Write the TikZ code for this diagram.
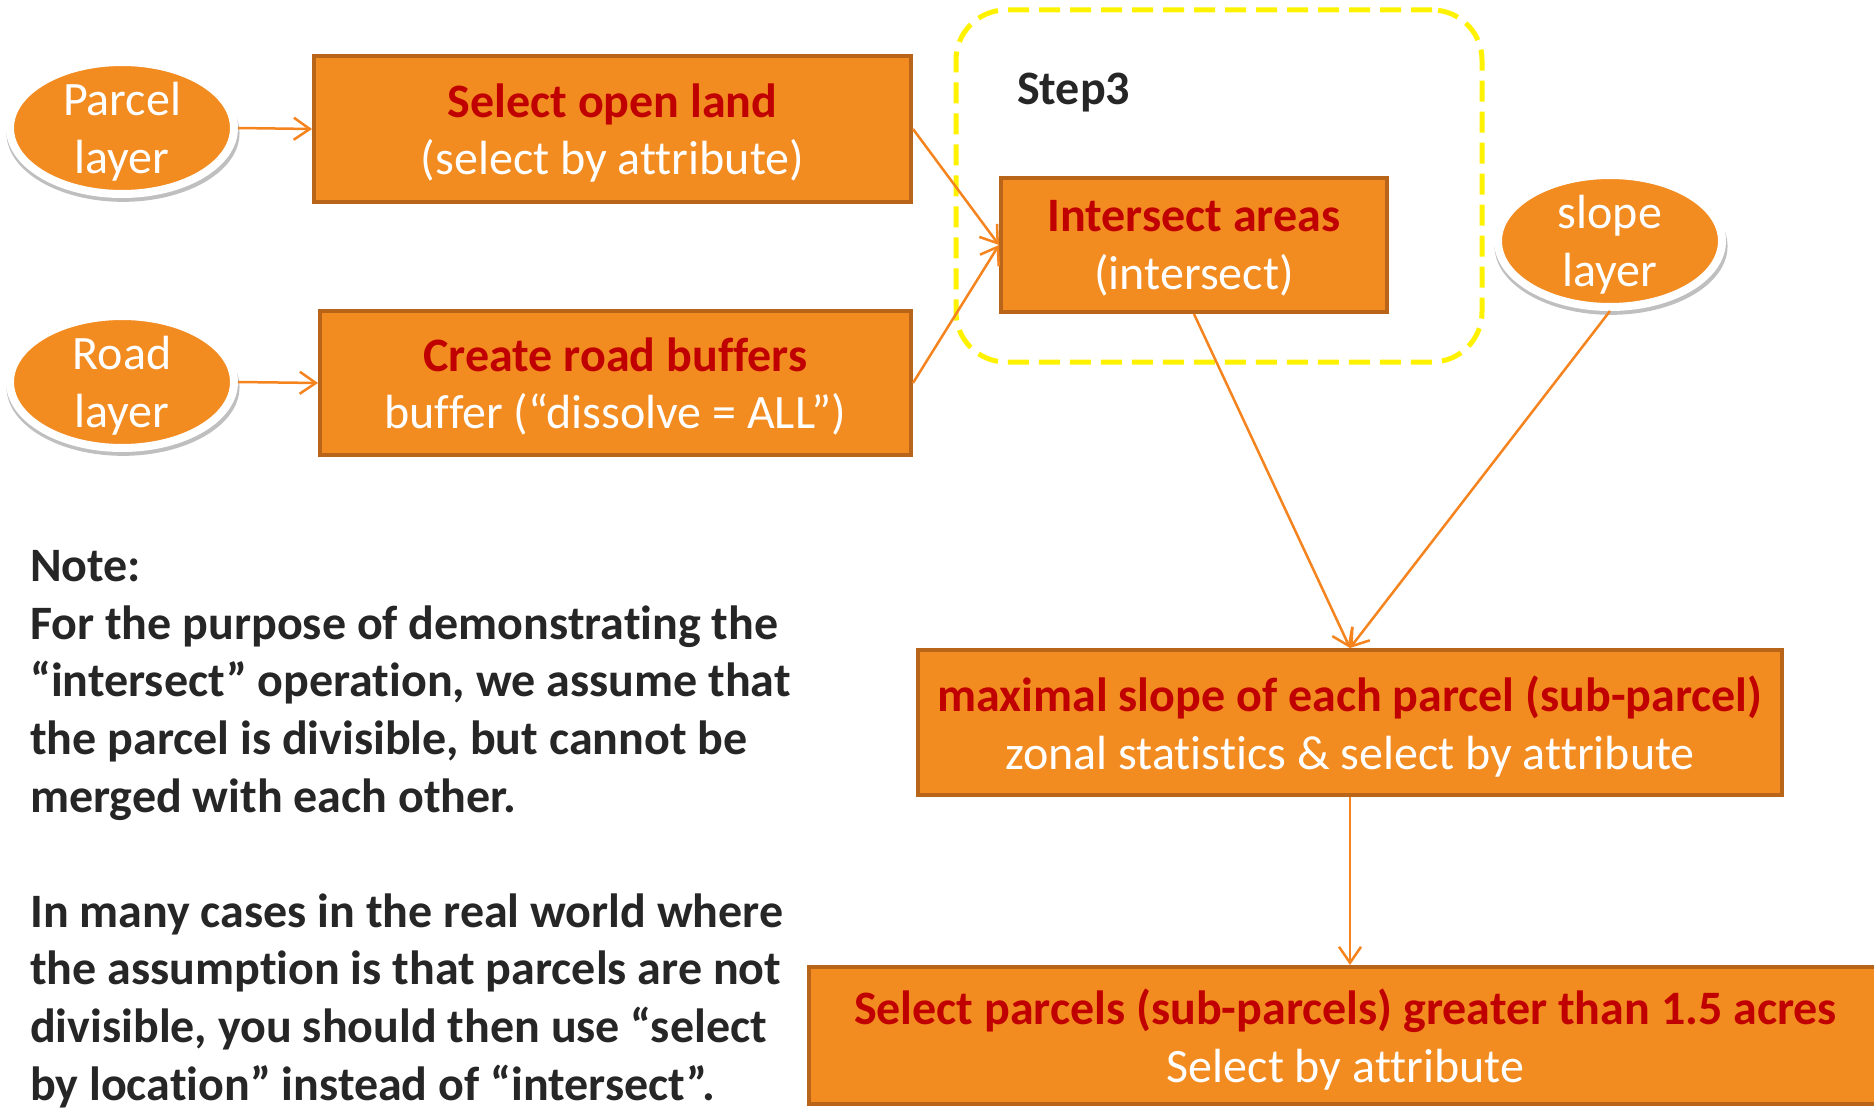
\documentclass[tikz,border=0pt]{standalone}
\usepackage{fontspec}
\setmainfont[Ligatures=NoCommon]{Carlito}
\usetikzlibrary{arrows.meta,shapes.geometric,shadows}
\definecolor{orfill}{HTML}{F28B20}
\definecolor{boxedge}{HTML}{B8651A}
\definecolor{redt}{HTML}{C00000}
\definecolor{arrowc}{HTML}{F5841F}
\definecolor{darkt}{HTML}{262626}
\begin{document}
\begin{tikzpicture}[x=1pt,y=-1pt,
  big/.style={font=\fontsize{48}{57.5}\selectfont},
  proc/.style={rectangle, draw=boxedge, line width=4pt, fill=orfill, text=white, align=center, inner sep=0pt, text depth=0pt, big},
  layer/.style={ellipse, draw=white, line width=8pt, fill=orfill, text=white, align=center, inner sep=0pt, text depth=0pt,
    minimum width=224pt, minimum height=132pt, big,
    drop shadow={shadow xshift=1pt, shadow yshift=-5pt, shadow scale=1.04, opacity=0.25, fill=black}},
  flow/.style={draw=arrowc, line width=2.5pt, -{Straight Barb[length=16pt,width=22pt,line width=2.5pt]}},
  frame/.style={rectangle, draw=yellow, line width=5pt, dash pattern=on 21pt off 10pt, rounded corners=50pt, inner sep=0pt}
]
\useasboundingbox (0,0) rectangle (1874,1110);
\fill[white] (0,0) rectangle (1874,1110);

\node[frame, minimum width=526pt, minimum height=352pt] (grp) at (1219,186) {};
\node[anchor=base west, inner sep=0pt, text=darkt, font=\fontsize{48}{57.5}\selectfont\bfseries] (step) at (1017,105) {Step3};

\node[layer] (parcel) at (122,128) {Parcel\\layer};
\node[layer] (roadl) at (122,382) {Road\\layer};
\node[layer] (slope) at (1610,241) {slope\\layer};

\node[proc, minimum width=597pt, minimum height=146pt] (open) at (612.5,129)
  {{\color{redt}\bfseries Select open land}\\(select by attribute)};
\node[proc, minimum width=591pt, minimum height=144pt] (buf) at (615.5,383)
  {{\color{redt}\bfseries Create road buffers}\\buffer (“dissolve = ALL”)};
\node[proc, minimum width=386pt, minimum height=134pt] (isect) at (1194,245)
  {{\color{redt}\bfseries Intersect areas}\\(intersect)};
\node[proc, minimum width=864pt, minimum height=145pt] (maxs) at (1350,722.5)
  {{\color{redt}\bfseries maximal slope of each parcel (sub-parcel)}\\zonal statistics \& select by attribute};
\node[proc, minimum width=1073pt, minimum height=137pt] (final) at (1345.5,1035.5)
  {{\color{redt}\bfseries Select parcels (sub-parcels) greater than 1.5 acres}\\Select by attribute};

\node[anchor=base west, inner sep=0pt, align=left, text=darkt, font=\fontsize{48}{57.6}\selectfont\bfseries] (note) at (30,1100)
  {Note:\\
   For the purpose of demonstrating the\\
   “intersect” operation, we assume that\\
   the parcel is divisible, but cannot be\\
   merged with each other.\\[57.6pt]
   In many cases in the real world where\\
   the assumption is that parcels are not\\
   divisible, you should then use “select\\
   by location” instead of “intersect”.};

\draw[flow] (parcel.east) -- (open.west);
\draw[flow] (roadl.east) -- (buf.west);
\draw[flow] (open.east) -- (isect.west);
\draw[flow] (buf.east) -- (isect.west);
\draw[flow] (isect.south) -- (maxs.north);
\draw[flow] (slope.south) -- (maxs.north);
\draw[flow] (maxs.south) -- (maxs.south |- final.north);
\end{tikzpicture}
\end{document}
